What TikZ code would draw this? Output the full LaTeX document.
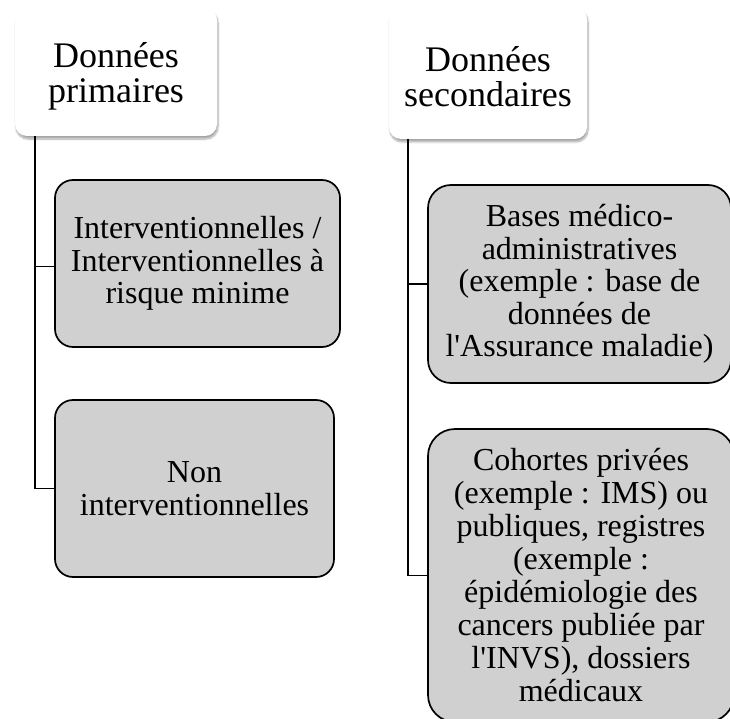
\documentclass[tikz,border=0pt]{standalone}
\usepackage{fontspec}
\setmainfont{Liberation Serif}
\usetikzlibrary{shadows.blur}
\definecolor{boxgray}{HTML}{D0D0D0}
\tikzset{
  headbox/.style={draw=none, fill=white, rounded corners=12pt, inner sep=0pt,
    blur shadow={shadow xshift=1pt, shadow yshift=-3pt, shadow blur steps=8, shadow opacity=35}},
  headtext/.style={align=center, inner sep=0pt, font=\fontsize{36}{35}\selectfont},
  itembox/.style={draw=black, line width=1.7pt, fill=boxgray, align=center, inner sep=0pt,
    font=\fontsize{32}{32.5}\selectfont},
  link/.style={draw=black, line width=1.6pt}
}
\begin{document}
\begin{tikzpicture}[x=1pt, y=-1pt]
\useasboundingbox (0,0) rectangle (730,719);
% headers
\node[headbox, minimum width=202pt, minimum height=128pt] (hl) at (116,72) {};
\node[headtext] (hlt) at ([yshift=-4pt]hl.center) {Données\\primaires};
\node[headbox, minimum width=198pt, minimum height=132pt] (hr) at (488,73) {};
\node[headtext] (hrt) at ([yshift=-4pt]hr.center) {Données\\secondaires};
% items
\node[itembox, rounded corners=18pt, minimum width=285pt, minimum height=167pt] (b1) at (197.5,263.5)
  {Interventionnelles /\\Interventionnelles à\\risque minime};
\node[itembox, rounded corners=18pt, minimum width=279pt, minimum height=177pt] (b2) at (194.5,488.5)
  {Non\\interventionnelles};
\node[itembox, rounded corners=23pt, minimum width=303pt, minimum height=198pt] (b3) at (579.5,284)
  {Bases médico-\\administratives\\(exemple : base de\\données de\\l\textquotesingle Assurance maladie)};
\node[itembox, rounded corners=27pt, minimum width=306pt, minimum height=293pt,
  font=\fontsize{32}{33}\selectfont] (b4) at (581,575.5)
  {Cohortes privées\\(exemple : IMS) ou\\publiques, registres\\(exemple :\\épidémiologie des\\cancers publiée par\\l\textquotesingle INVS), dossiers\\médicaux};
% connector guides
\coordinate (lx) at (35,0);
\coordinate (rx) at (408,0);
% connectors
\draw[link] (hl.south -| lx) |- (b2.west);
\draw[link] ([yshift=-3pt]b1.west -| lx) -- ([yshift=-3pt]b1.west);
\draw[link] (hr.south -| rx) |- (b4.west);
\draw[link] (b3.west -| rx) -- (b3.west);
\end{tikzpicture}
\end{document}
